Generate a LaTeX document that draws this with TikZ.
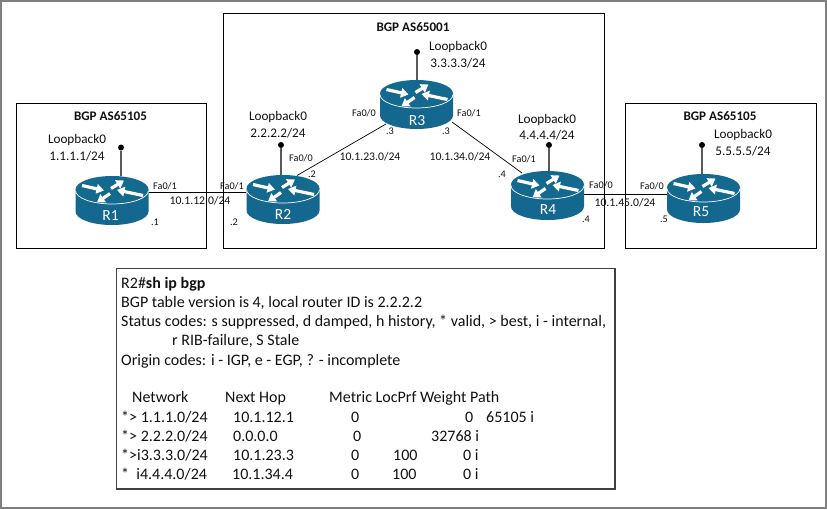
\documentclass[tikz,border=0pt]{standalone}
\usepackage{fontspec}
\setmainfont{Carlito}
\usetikzlibrary{arrows.meta}
\definecolor{rblue}{HTML}{14678F}
\definecolor{rtop}{HTML}{14698F}
\definecolor{ink}{HTML}{111111}
\definecolor{frameg}{HTML}{7F7F7F}
\tikzset{
  as/.style={draw=black,line width=0.9pt,fill=none},
  cap8/.style={font=\fontsize{11.7}{13}\selectfont,text=ink,inner sep=0pt},
  lbl/.style={font=\fontsize{13.2}{15}\selectfont,text=ink,inner sep=0pt},
  small/.style={font=\fontsize{10.2}{12}\selectfont,text=ink,inner sep=0pt},
  title/.style={font=\fontsize{13.1}{15}\selectfont\bfseries,text=ink,inner sep=0pt},
  tab/.style={font=\fontsize{16}{18}\selectfont,text=ink,inner sep=0pt,anchor=base west},
  dot/.style={circle,fill=black,inner sep=0pt,minimum size=6pt},
  stem/.style={draw=black!65,line width=1.2pt},
  link/.style={draw=black,line width=0.7pt},
  rarrow/.style={draw=white,line width=3.2pt,-{Triangle[width=9.5pt,length=7.5pt]}},
  routerbox/.style={rectangle,minimum width=73pt,minimum height=49pt,inner sep=0pt,
    path picture={
      \fill[rblue] (-36.5pt,11pt) -- (-36.5pt,-11pt) arc[x radius=36.5pt,y radius=13.5pt,start angle=180,end angle=360] -- (36.5pt,11pt) -- cycle;
      \fill[rtop] (0,11pt) ellipse[x radius=36.5pt,y radius=13.5pt];
      \draw[white,line width=0.7pt] (-36.5pt,10pt) arc[x radius=36.5pt,y radius=13.5pt,start angle=180,end angle=360];
      \draw[rarrow] (-30pt,15pt) -- (-8pt,10pt);
      \draw[rarrow] (-1pt,12pt) -- (12pt,20pt);
      \draw[rarrow] (31pt,5pt) -- (5pt,10.5pt);
      \draw[rarrow] (-2pt,7pt) -- (-15pt,-2pt);
    }},
  routerlabel/.style={text=white,font=\fontsize{15.5}{17}\selectfont,inner sep=0pt}
}
\begin{document}
\begin{tikzpicture}[x=1pt,y=-1pt]
\useasboundingbox (0,0) rectangle (827,509);
\fill[white] (0,0) rectangle (827,509);
\draw[frameg,line width=2.2pt] (1,1) rectangle (826,508);
% boxes
\draw[as] (16.5,103.5) rectangle (206.5,248);
\draw[as] (223.5,13.5) rectangle (604,248);
\draw[as] (625.5,103.5) rectangle (816,248);
\draw[as,draw=black!75,line width=1.1pt] (116.5,268.5) rectangle (615,489);
% routers
\node[routerbox] (R1) at (112,200.5) {};
\node[routerbox] (R2) at (283,199.5) {};
\node[routerbox] (R3) at (416.5,104.5) {};
\node[routerbox] (R4) at (547.5,195.5) {};
\node[routerbox] (R5) at (703.5,198.5) {};
\node[routerlabel] (R1t) at (110.5,216) {R1};
\node[routerlabel] (R2t) at (283,214) {R2};
\node[routerlabel] (R3t) at (417,120.5) {R3};
\node[routerlabel] (R4t) at (548,209.5) {R4};
\node[routerlabel] (R5t) at (701,212) {R5};
% links
\draw[link] ([yshift=8pt]R1.east) -- ([yshift=7pt]R2.west);
\draw[link] ([xshift=14pt,yshift=24pt]R2.center) -- ([xshift=-30.5pt,yshift=-19.5pt]R3.center);
\draw[link] ([xshift=35.5pt,yshift=-17.5pt]R3.center) -- ([xshift=-25.5pt,yshift=22.5pt]R4.center);
\draw[link] ([yshift=1.5pt]R4.east) -- ([yshift=4.5pt]R5.west);
% loopbacks
\node[dot] (d1) at (121,147.5) {};
\node[dot] (d2) at (281,145) {};
\node[dot] (d3) at (417,52) {};
\node[dot] (d4) at (549,145) {};
\node[dot] (d5) at (702,145) {};
\draw[stem] (d1) -- (R1.north -| d1);
\draw[stem] (d2) -- (R2.north -| d2);
\draw[stem] (d3) -- (R3.north -| d3);
\draw[stem] (d4) -- (R4.north -| d4);
\draw[stem] (d5) -- (R5.north -| d5);
% titles
\node[title] (a1) at (110.5,116) {BGP AS65105};
\node[title] (a2) at (413,27) {BGP AS65001};
\node[title] (a3) at (720,116) {BGP AS65105};
% loopback labels
\node[lbl] (l1) at (77,140) {Loopback0};
\node[lbl] (i1) at (77,156) {1.1.1.1/24};
\node[lbl] (l2) at (278,117) {Loopback0};
\node[lbl] (i2) at (278,133) {2.2.2.2/24};
\node[lbl] (l3) at (458,47) {Loopback0};
\node[lbl] (i3) at (458,63) {3.3.3.3/24};
\node[lbl] (l4) at (547,119.5) {Loopback0};
\node[lbl] (i4) at (547,135) {4.4.4.4/24};
\node[lbl] (l5) at (743,135) {Loopback0};
\node[lbl] (i5) at (743,151) {5.5.5.5/24};
% interface labels
\node[small] (f1) at (165,186.5) {Fa0/1};
\node[small] (f2) at (232,186.5) {Fa0/1};
\node[small] (f3) at (301,158.5) {Fa0/0};
\node[small] (f4) at (364,113.5) {Fa0/0};
\node[small] (f5) at (469,113.5) {Fa0/1};
\node[small] (f6) at (524,159) {Fa0/1};
\node[small] (f7) at (601,185) {Fa0/0};
\node[small] (f8) at (652,186) {Fa0/0};
\node[small] (p1) at (155,222) {.1};
\node[small] (p2) at (234,222) {.2};
\node[small] (p3) at (312,174) {.2};
\node[small] (p4) at (390,131.5) {.3};
\node[small] (p5) at (446,131.5) {.3};
\node[small] (p6) at (502,174.5) {.4};
\node[small] (p7) at (586,219) {.4};
\node[small] (p8) at (664,219) {.5};
\node[cap8] (n1) at (200,201) {10.1.12.0/24};
\node[cap8] (n2) at (370,157) {10.1.23.0/24};
\node[cap8] (n3) at (460,157) {10.1.34.0/24};
\node[cap8] (n4) at (625,203) {10.1.45.0/24};
% table
\node[tab] (t1) at (121,288) {R2\#\textbf{sh ip bgp}};
\node[tab] (t2) at (121,307) {BGP table version is 4, local router ID is 2.2.2.2};
\node[tab] (t3) at (121,326) {Status codes: s suppressed, d damped, h history, * valid, > best, i - internal,};
\node[tab] (t4) at (172,345) {r RIB-failure, S Stale};
\node[tab] (t5) at (121,365) {Origin codes: i - IGP, e - EGP, ? - incomplete};
\node[tab] (h1) at (132,402) {Network};
\node[tab] (h2) at (225,402) {Next Hop};
\node[tab] (h3) at (329,402) {Metric LocPrf Weight Path};
\node[tab] (a) at (121,422) {*> 1.1.1.0/24};
\node[tab] (b) at (121,441) {*> 2.2.2.0/24};
\node[tab] (c) at (121,460) {*>i3.3.3.0/24};
\node[tab] (d) at (121,479) {*\ \ i4.4.4.0/24};
\node[tab] (a2h) at (233,422) {10.1.12.1};
\node[tab] (b2h) at (233,441) {0.0.0.0};
\node[tab] (c2h) at (233,460) {10.1.23.3};
\node[tab] (d2h) at (232,479) {10.1.34.4};
\node[tab] (am) at (351,422) {0};
\node[tab] (bm) at (353,441) {0};
\node[tab] (cm) at (351,460) {0};
\node[tab] (dm) at (351,479) {0};
\node[tab] (cl) at (393,460) {100};
\node[tab] (dl) at (392,479) {100};
\node[tab] (aw) at (465,422) {0};
\node[tab] (ap) at (486,422) {65105 i};
\node[tab] (bw) at (431,441) {32768 i};
\node[tab] (cw) at (463,460) {0 i};
\node[tab] (dw) at (463,479) {0 i};
\end{tikzpicture}
\end{document}
